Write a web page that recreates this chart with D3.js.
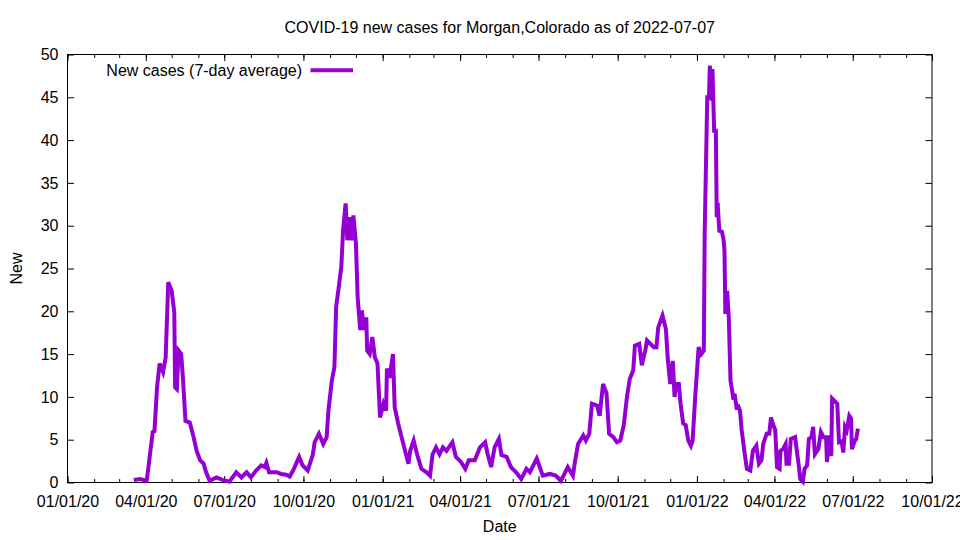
<!DOCTYPE html>
<html>
<head>
<meta charset="utf-8">
<script src="https://cdn.jsdelivr.net/npm/d3@7"></script>
<style>
    body { margin: 0; background: white; }
    svg { font-family: "Liberation Sans", Arial, sans-serif; }
</style>
</head>
<body>
<svg id="chart" width="960" height="540"></svg>
<script>
// values (7-day average of new cases)
const dates = [
    '2020-03-18', '2020-03-25', '2020-04-02', '2020-04-04', '2020-04-09', '2020-04-11', '2020-04-14', '2020-04-17',
    '2020-04-21', '2020-04-24', '2020-04-27', '2020-05-01', '2020-05-04', '2020-05-05', '2020-05-07', '2020-05-09',
    '2020-05-12', '2020-05-14', '2020-05-17', '2020-05-22', '2020-05-26', '2020-05-30', '2020-06-03', '2020-06-07',
    '2020-06-10', '2020-06-14', '2020-06-22', '2020-06-29', '2020-07-07', '2020-07-15', '2020-07-21', '2020-07-27',
    '2020-08-01', '2020-08-07', '2020-08-13', '2020-08-17', '2020-08-19', '2020-08-22', '2020-08-31', '2020-09-05',
    '2020-09-11', '2020-09-15', '2020-09-19', '2020-09-26', '2020-09-30', '2020-10-06', '2020-10-12', '2020-10-14',
    '2020-10-19', '2020-10-24', '2020-10-28', '2020-10-30', '2020-11-03', '2020-11-06', '2020-11-08', '2020-11-11',
    '2020-11-14', '2020-11-16', '2020-11-19', '2020-11-21', '2020-11-24', '2020-11-26', '2020-11-28', '2020-12-01',
    '2020-12-03', '2020-12-06', '2020-12-08', '2020-12-10', '2020-12-13', '2020-12-14', '2020-12-17', '2020-12-20',
    '2020-12-23', '2020-12-26', '2020-12-29', '2021-01-02', '2021-01-05', '2021-01-06', '2021-01-09', '2021-01-13',
    '2021-01-15', '2021-01-19', '2021-01-23', '2021-01-27', '2021-01-31', '2021-02-02', '2021-02-06', '2021-02-10',
    '2021-02-15', '2021-02-21', '2021-02-25', '2021-02-28', '2021-03-04', '2021-03-08', '2021-03-12', '2021-03-16',
    '2021-03-23', '2021-03-27', '2021-04-02', '2021-04-07', '2021-04-11', '2021-04-18', '2021-04-24', '2021-04-30',
    '2021-05-03', '2021-05-07', '2021-05-11', '2021-05-16', '2021-05-19', '2021-05-25', '2021-05-30', '2021-06-05',
    '2021-06-11', '2021-06-17', '2021-06-21', '2021-06-29', '2021-07-06', '2021-07-14', '2021-07-21', '2021-07-27',
    '2021-08-04', '2021-08-10', '2021-08-12', '2021-08-16', '2021-08-22', '2021-08-25', '2021-08-29', '2021-09-01',
    '2021-09-07', '2021-09-10', '2021-09-14', '2021-09-18', '2021-09-21', '2021-09-26', '2021-09-30', '2021-10-04',
    '2021-10-08', '2021-10-12', '2021-10-15', '2021-10-19', '2021-10-21', '2021-10-26', '2021-10-29', '2021-11-02',
    '2021-11-04', '2021-11-08', '2021-11-12', '2021-11-15', '2021-11-17', '2021-11-22', '2021-11-26', '2021-11-28',
    '2021-12-01', '2021-12-04', '2021-12-06', '2021-12-08', '2021-12-11', '2021-12-13', '2021-12-16', '2021-12-19',
    '2021-12-22', '2021-12-25', '2021-12-27', '2021-12-30', '2022-01-03', '2022-01-06', '2022-01-09', '2022-01-10',
    '2022-01-13', '2022-01-15', '2022-01-16', '2022-01-18', '2022-01-19', '2022-01-21', '2022-01-23', '2022-01-24',
    '2022-01-25', '2022-01-27', '2022-01-30', '2022-02-01', '2022-02-02', '2022-02-03', '2022-02-05', '2022-02-07',
    '2022-02-09', '2022-02-12', '2022-02-14', '2022-02-16', '2022-02-18', '2022-02-20', '2022-02-22', '2022-02-25',
    '2022-02-28', '2022-03-04', '2022-03-07', '2022-03-11', '2022-03-14', '2022-03-17', '2022-03-19', '2022-03-23',
    '2022-03-26', '2022-03-28', '2022-03-30', '2022-04-02', '2022-04-04', '2022-04-07', '2022-04-08', '2022-04-11',
    '2022-04-14', '2022-04-15', '2022-04-18', '2022-04-20', '2022-04-25', '2022-04-29', '2022-05-01', '2022-05-04',
    '2022-05-06', '2022-05-09', '2022-05-11', '2022-05-14', '2022-05-16', '2022-05-18', '2022-05-22', '2022-05-25',
    '2022-05-28', '2022-05-31', '2022-06-01', '2022-06-04', '2022-06-06', '2022-06-07', '2022-06-10', '2022-06-13',
    '2022-06-15', '2022-06-18', '2022-06-20', '2022-06-22', '2022-06-24', '2022-06-27', '2022-06-29', '2022-06-30',
    '2022-07-03', '2022-07-05', '2022-07-07'
]

const newCases = [
    0.3, 0.4, 0.2, 1.8, 5.9, 6.0, 11.1, 13.9,
    12.9, 14.6, 23.4, 22.4, 19.9, 11.1, 10.9, 15.4,
    15.0, 12.3, 7.2, 7.0, 5.5, 3.7, 2.6, 2.2,
    1.2, 0.2, 0.6, 0.3, 0.1, 1.2, 0.6, 1.2,
    0.6, 1.4, 2.0, 1.8, 2.3, 1.2, 1.2, 1.0,
    0.9, 0.7, 1.4, 3.0, 2.0, 1.4, 3.3, 4.7,
    5.7, 4.5, 5.3, 8.4, 11.9, 13.5, 20.5, 22.8,
    25.2, 29.4, 32.6, 28.3, 31.0, 28.3, 31.2, 27.9,
    21.6, 17.8, 20.1, 17.8, 19.3, 15.4, 15.0, 17.0,
    14.6, 13.9, 7.6, 9.2, 8.4, 13.3, 12.2, 15.0,
    8.8, 6.9, 5.3, 3.7, 2.2, 3.7, 4.9, 3.3,
    1.6, 1.2, 0.8, 3.3, 4.1, 3.3, 4.1, 3.7,
    4.7, 3.0, 2.4, 1.6, 2.6, 2.6, 4.1, 4.7,
    3.3, 1.8, 4.1, 5.1, 3.2, 3.0, 1.8, 1.2,
    0.4, 1.6, 1.2, 2.8, 0.8, 1.0, 0.8, 0.2,
    1.8, 0.8, 2.2, 4.5, 5.5, 4.9, 5.7, 9.2,
    9.0, 7.8, 11.5, 10.4, 5.7, 5.3, 4.7, 4.9,
    6.7, 10.2, 12.1, 13.1, 16.0, 16.2, 13.7, 15.4,
    16.6, 16.2, 15.8, 15.8, 18.1, 19.5, 17.9, 14.6,
    11.5, 14.2, 10.0, 11.5, 11.5, 9.2, 6.9, 6.7,
    4.9, 4.3, 4.9, 10.0, 15.8, 15.0, 15.4, 29.1,
    45.0, 45.0, 48.7, 44.6, 48.3, 41.1, 41.1, 31.0,
    32.7, 29.4, 29.3, 28.3, 27.1, 19.7, 22.4, 19.3,
    11.9, 10.0, 10.1, 8.8, 8.9, 8.4, 6.1, 3.7,
    1.6, 1.4, 3.7, 4.3, 2.2, 2.6, 4.5, 5.7,
    5.7, 7.6, 6.9, 6.1, 1.8, 1.6, 3.7, 3.9,
    4.5, 2.2, 2.2, 5.1, 5.3, 2.2, 0.4, 0.1,
    1.6, 2.0, 5.1, 5.3, 6.5, 3.3, 3.9, 5.9,
    5.3, 5.3, 2.4, 5.5, 3.1, 9.8, 9.5, 9.2,
    4.7, 4.8, 3.5, 6.5, 6.1, 7.8, 7.5, 3.9,
    4.8, 5.1, 6.3
]

const xTickDates = ['2020-01-01', '2020-04-01', '2020-07-01', '2020-10-01', '2021-01-01', '2021-04-01',
    '2021-07-01', '2021-10-01', '2022-01-01', '2022-04-01', '2022-07-01', '2022-10-01']
const yTicks = [0, 5, 10, 15, 20, 25, 30, 35, 40, 45, 50]

const title = 'COVID-19 new cases for Morgan,Colorado as of 2022-07-07'
const seriesName = 'New cases (7-day average)'

let svg = d3.select('#chart')

let plotLeft = 67.5
let plotRight = 932
let plotTop = 54.5
let plotBottom = 482.5
let lineColor = '#9400d3'
let fontSize = '16px'

let parseDate = d3.timeParse('%Y-%m-%d')
let formatDate = d3.timeFormat('%m/%d/%y')

let points = dates.map((d, i) => {
    return { date: parseDate(d), value: newCases[i] }
})

let xScale = d3.scaleTime()
    .domain([parseDate(xTickDates[0]), parseDate(xTickDates[xTickDates.length - 1])])
    .range([plotLeft, plotRight])

let yScale = d3.scaleLinear()
    .domain([0, 50])
    .range([plotBottom, plotTop])

let majorX = xTickDates.map(parseDate)
let minorX = d3.timeMonth.range(xScale.domain()[0], xScale.domain()[1])

// bottom axis, ticks pointing into the plot
let xAxis = svg.append('g')
    .attr('transform', `translate(0,${plotBottom})`)
    .call(d3.axisBottom(xScale).tickValues(majorX).tickFormat(formatDate).tickSizeInner(-6.5).tickSizeOuter(0).tickPadding(13))
xAxis.select('.domain').remove()
xAxis.selectAll('text')
    .attr('font-size', fontSize)
    .attr('fill', 'black')
    .attr('font-family', '"Liberation Sans", Arial, sans-serif')

svg.append('g')
    .attr('transform', `translate(0,${plotBottom})`)
    .call(d3.axisBottom(xScale).tickValues(minorX).tickFormat('').tickSizeInner(-3.5).tickSizeOuter(0))
    .select('.domain').remove()

// mirrored top ticks
svg.append('g')
    .attr('transform', `translate(0,${plotTop})`)
    .call(d3.axisTop(xScale).tickValues(majorX).tickFormat('').tickSizeInner(-6.5).tickSizeOuter(0))
    .select('.domain').remove()

svg.append('g')
    .attr('transform', `translate(0,${plotTop})`)
    .call(d3.axisTop(xScale).tickValues(minorX).tickFormat('').tickSizeInner(-3.5).tickSizeOuter(0))
    .select('.domain').remove()

let yAxis = svg.append('g')
    .attr('transform', `translate(${plotLeft},0)`)
    .call(d3.axisLeft(yScale).tickValues(yTicks).tickSizeInner(-6.5).tickSizeOuter(0).tickPadding(9))
yAxis.select('.domain').remove()
yAxis.selectAll('text')
    .attr('font-size', fontSize)
    .attr('fill', 'black')
    .attr('font-family', '"Liberation Sans", Arial, sans-serif')

svg.append('g')
    .attr('transform', `translate(${plotRight},0)`)
    .call(d3.axisRight(yScale).tickValues(yTicks).tickFormat('').tickSizeInner(-6.5).tickSizeOuter(0))
    .select('.domain').remove()

svg.selectAll('.tick line')
    .attr('stroke', 'black')

// border
svg.append('rect')
    .attr('x', plotLeft)
    .attr('y', plotTop)
    .attr('width', plotRight - plotLeft)
    .attr('height', plotBottom - plotTop)
    .attr('fill', 'none')
    .attr('stroke', 'black')
    .attr('stroke-width', 1)

let line = d3.line()
    .x((p) => xScale(p.date))
    .y((p) => yScale(p.value))

svg.append('path')
    .datum(points)
    .attr('d', line)
    .attr('fill', 'none')
    .attr('stroke', lineColor)
    .attr('stroke-width', 4)
    .attr('stroke-linejoin', 'miter')

// legend
svg.append('text')
    .attr('x', 302)
    .attr('y', 75.5)
    .attr('text-anchor', 'end')
    .attr('font-size', fontSize)
    .text(seriesName)

svg.append('line')
    .attr('x1', 310.5)
    .attr('x2', 353)
    .attr('y1', 70.3)
    .attr('y2', 70.3)
    .attr('stroke', lineColor)
    .attr('stroke-width', 4)

svg.append('text')
    .attr('x', (plotLeft + plotRight) / 2)
    .attr('y', 33)
    .attr('text-anchor', 'middle')
    .attr('font-size', fontSize)
    .text(title)

svg.append('text')
    .attr('x', (plotLeft + plotRight) / 2)
    .attr('y', 532)
    .attr('text-anchor', 'middle')
    .attr('font-size', fontSize)
    .text('Date')

svg.append('text')
    .attr('transform', `translate(22,${(plotTop + plotBottom) / 2}) rotate(-90)`)
    .attr('text-anchor', 'middle')
    .attr('font-size', fontSize)
    .text('New')
</script>
</body>
</html>
